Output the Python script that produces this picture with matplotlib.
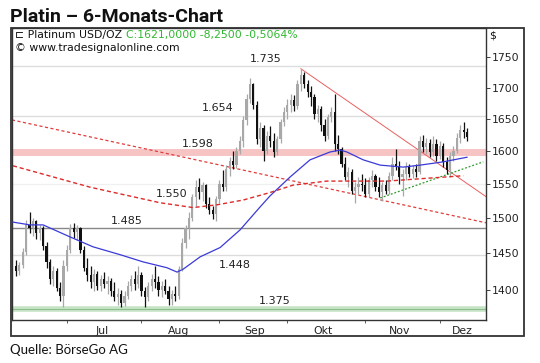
import numpy as np
import matplotlib
matplotlib.use("Agg")
import matplotlib.pyplot as plt
from matplotlib.patches import Rectangle
from matplotlib.ticker import FixedLocator, NullLocator

# daily OHLC, weekday index 0 = 11 Jun 2012
opens = [1432, 1425, 1434, 1452, 1490, 1485, 1495, 1478, 1486, 1460,
         1438, 1415, 1425, 1402, 1392, 1432, 1455, 1486, 1480, 1485,
         1455, 1430, 1420, 1410, 1422, 1405, 1415, 1408, 1412, 1398,
         1390, 1395, 1383, 1392, 1405, 1415, 1408, 1420, 1398, 1390,
         1405, 1415, 1410, 1400, 1405, 1398, 1388, 1395, 1392, 1428,
         1465, 1485, 1500, 1530, 1545, 1538, 1548, 1520, 1512, 1505,
         1528, 1550, 1545, 1572, 1585, 1578, 1600, 1615, 1648, 1682,
         1705, 1672, 1618, 1635, 1600, 1622, 1615, 1598, 1618, 1645,
         1660, 1672, 1680, 1670, 1705, 1720, 1705, 1692, 1685, 1658,
         1665, 1640, 1622, 1652, 1660, 1610, 1602, 1580, 1560, 1568,
         1540, 1545, 1550, 1548, 1535, 1555, 1562, 1545, 1538, 1548,
         1540, 1562, 1580, 1575, 1560, 1565, 1575, 1565, 1572, 1568,
         1615, 1605, 1612, 1598, 1610, 1592, 1608, 1582, 1570, 1592,
         1600, 1620, 1632, 1629]
highs = [1441, 1438, 1457, 1497, 1508, 1500, 1497, 1490, 1488, 1466,
         1442, 1432, 1430, 1410, 1440, 1462, 1492, 1493, 1490, 1487,
         1460, 1443, 1432, 1428, 1426, 1420, 1424, 1418, 1416, 1410,
         1402, 1400, 1398, 1412, 1420, 1425, 1432, 1424, 1404, 1410,
         1422, 1432, 1418, 1412, 1415, 1405, 1400, 1405, 1432, 1472,
         1490, 1508, 1535, 1555, 1558, 1552, 1550, 1530, 1518, 1532,
         1555, 1570, 1578, 1590, 1600, 1605, 1622, 1654, 1690, 1715,
         1708, 1678, 1645, 1640, 1630, 1638, 1628, 1622, 1650, 1668,
         1682, 1690, 1688, 1712, 1731, 1725, 1712, 1702, 1690, 1672,
         1670, 1650, 1658, 1668, 1690, 1625, 1605, 1590, 1575, 1572,
         1552, 1560, 1565, 1558, 1560, 1570, 1565, 1560, 1552, 1556,
         1568, 1590, 1602, 1585, 1572, 1582, 1580, 1578, 1580, 1622,
         1624, 1620, 1618, 1622, 1618, 1615, 1612, 1590, 1598, 1608,
         1628, 1640, 1645, 1635]
lows = [1418, 1420, 1430, 1448, 1478, 1474, 1470, 1468, 1455, 1430,
        1408, 1405, 1398, 1385, 1377, 1425, 1450, 1472, 1468, 1450,
        1425, 1412, 1402, 1398, 1400, 1398, 1403, 1395, 1392, 1385,
        1380, 1377, 1378, 1388, 1398, 1400, 1403, 1392, 1377, 1385,
        1398, 1402, 1392, 1390, 1395, 1380, 1380, 1385, 1388, 1425,
        1458, 1470, 1495, 1518, 1528, 1525, 1515, 1505, 1498, 1496,
        1522, 1540, 1540, 1562, 1572, 1574, 1595, 1605, 1640, 1675,
        1665, 1610, 1605, 1584, 1595, 1605, 1590, 1594, 1612, 1638,
        1650, 1660, 1662, 1665, 1695, 1700, 1685, 1670, 1650, 1645,
        1630, 1615, 1618, 1645, 1600, 1595, 1575, 1555, 1545, 1535,
        1522, 1535, 1540, 1530, 1530, 1545, 1540, 1530, 1525, 1535,
        1535, 1555, 1570, 1550, 1532, 1555, 1560, 1558, 1560, 1565,
        1598, 1595, 1590, 1592, 1585, 1588, 1575, 1565, 1560, 1585,
        1596, 1612, 1620, 1615]
closes = [1425, 1434, 1452, 1490, 1485, 1495, 1478, 1486, 1460, 1438,
          1415, 1425, 1402, 1392, 1432, 1455, 1486, 1480, 1485, 1455,
          1430, 1420, 1410, 1422, 1405, 1415, 1408, 1412, 1398, 1390,
          1395, 1383, 1392, 1405, 1415, 1408, 1420, 1398, 1390, 1405,
          1415, 1410, 1400, 1405, 1398, 1388, 1395, 1392, 1428, 1465,
          1485, 1500, 1530, 1545, 1538, 1548, 1520, 1512, 1505, 1528,
          1550, 1545, 1572, 1585, 1578, 1600, 1615, 1648, 1682, 1705,
          1672, 1618, 1635, 1600, 1622, 1615, 1598, 1618, 1645, 1660,
          1672, 1680, 1670, 1705, 1720, 1705, 1692, 1685, 1658, 1665,
          1640, 1622, 1652, 1660, 1610, 1602, 1580, 1560, 1568, 1540,
          1545, 1550, 1548, 1535, 1555, 1562, 1545, 1538, 1548, 1540,
          1562, 1580, 1575, 1560, 1565, 1575, 1565, 1572, 1568, 1615,
          1605, 1612, 1598, 1610, 1592, 1608, 1582, 1570, 1592, 1600,
          1620, 1632, 1629, 1621]

# moving averages (sampled)
ma_fast_x = [-0.9, 4.1, 8.0, 15.9, 22.7, 30.7, 37.5, 44.5, 47.5, 49.3, 54.3, 60.2, 66.1,
             72.0, 74.9, 80.8, 86.7, 92.6, 95.6, 97.6, 102.4, 107.4, 114.2, 119.2, 126.0, 133.0]
ma_fast_y = [1494, 1490, 1490, 1473, 1459, 1448, 1438, 1430, 1424, 1428, 1445, 1458, 1483,
             1516, 1532, 1560, 1586, 1598, 1601, 1598, 1586, 1578, 1575, 1578, 1583, 1590]
ma_slow_x = [-0.9, 21.8, 42.5, 52.2, 59.3, 67.0, 74.9, 81.7, 91.7, 109.4, 131.9]
ma_slow_y = [1577, 1545, 1522, 1515, 1519, 1526, 1537, 1548, 1554, 1554, 1562]

# trend lines (start, end)
trend_long_x, trend_long_y = [-1.2, 138.6], [1648, 1493]
trend_top_x, trend_top_y = [84, 138.6], [1731, 1531]
trend_up_x, trend_up_y = [107.4, 137.8], [1529, 1583]

# marked levels
level_values = [1735, 1654, 1598, 1550, 1485, 1448, 1375]
level_labels = ["1.735", "1.654", "1.598", "1.550", "1.485", "1.448", "1.375"]
level_label_x = [73.5, 59.6, 53.7, 45.8, 32.7, 64.6, 76.4]
level_label_above = [True, True, True, False, True, False, True]

yticks = [1400, 1450, 1500, 1550, 1600, 1650, 1700, 1750]
month_starts = [15, 37, 60, 80, 103, 125]
month_mid = [25.5, 48, 70.5, 90.5, 113, 131.5]
month_names = ["Jul", "Aug", "Sep", "Okt", "Nov", "Dez"]

W, H = 540, 363
fig = plt.figure(figsize=(W / 100, H / 100), dpi=100)
ax = fig.add_axes([12 / W, 1 - 320 / H, 474 / W, 292 / H])
ax.set_yscale("log")
ax.set_ylim(1360, 1800)
ax.set_xlim(-1.18, 138.6)

# levels
ax.axhline(1735, color="#dddddd", lw=1, zorder=1)
ax.axhline(1654, color="#dddddd", lw=1, zorder=1)
ax.axhline(1598, color="#f7c4c4", lw=5, zorder=1)
ax.axhline(1550, color="#f0f0f0", lw=1, zorder=1)
ax.axhline(1485, color="#888888", lw=1, zorder=1)
ax.axhline(1448, color="#dcdcdc", lw=1, zorder=1)
ax.axhline(1375, color="#c4e2c4", lw=4, zorder=1)
ax.axhline(1375, color="#8cbc8c", lw=0.7, zorder=1)

for v, s, lx, above in zip(level_values, level_labels, level_label_x, level_label_above):
    ax.annotate(s, xy=(lx, v), xytext=(0, 2 if above else -3.5), textcoords="offset points",
                ha="center", va="bottom" if above else "top", fontsize=8, color="#222222")

# candles
idx = np.arange(len(closes))
o = np.array(opens)
c = np.array(closes)
col = np.where(c >= o, "#a8a8a8", "#111111")
ax.vlines(idx, lows, highs, colors=col, lw=0.9, zorder=3)
body = np.where(np.abs(c - o) < 1, 1, c - o)
ax.bar(idx, body, bottom=o, width=0.65, color=col, lw=0, zorder=3)

# averages and trend lines
ax.plot(ma_fast_x, ma_fast_y, color="#3a3ad8", lw=0.9, zorder=4)
ax.plot(ma_slow_x, ma_slow_y, color="#dd2a2a", lw=1, ls=(0, (3, 2)), zorder=4)
ax.plot(trend_long_x, trend_long_y, color="#e03c3c", lw=0.9, ls=(0, (2.5, 2)), zorder=2)
ax.plot(trend_top_x, trend_top_y, color="#e86060", lw=0.7, zorder=2)
ax.plot(trend_up_x, trend_up_y, color="#2e9a2e", lw=0.9, ls=(0, (1.5, 1.5)), zorder=2)

# axes
ax.yaxis.tick_right()
ax.yaxis.set_major_locator(FixedLocator(yticks))
ax.yaxis.set_minor_locator(NullLocator())
ax.set_yticklabels([str(t) for t in yticks])
ax.tick_params(axis="y", length=3, width=0.6, pad=1.5, labelsize=7.8, colors="#222222")
ax.set_xticks(month_starts)
ax.set_xticklabels([])
ax.set_xticks(month_mid, minor=True)
ax.set_xticklabels(month_names, minor=True)
ax.tick_params(axis="x", which="major", length=2.5, width=0.6, color="#444444")
ax.tick_params(axis="x", which="minor", length=0, pad=4, labelsize=7.8, labelcolor="#222222")
for sp in ax.spines.values():
    sp.set_color("#333333")
    sp.set_linewidth(1)

# frame around chart
fig.patches.append(Rectangle((11 / W, 1 - 336 / H), 513 / W, 308 / H, transform=fig.transFigure,
                             fill=False, ec="#333333", lw=1.3))

# texts
fig.text(10 / W, 1 - 22.5 / H, "Platin – 6-Monats-Chart", fontsize=14, fontweight="bold",
         family="Roboto", va="baseline", color="#111111")
t1 = fig.text(15 / W, 1 - 35 / H, "⊏ Platinum USD/OZ ", fontsize=7.8, va="center", color="#111111")
ax.annotate("C:1621,0000 -8,2500 -0,5064%", xy=(1, 0.5), xycoords=t1, va="center", ha="left",
            fontsize=7.8, color="#2fb82f", annotation_clip=False)
fig.text(15 / W, 1 - 48 / H, "© www.tradesignalonline.com", fontsize=7.8, va="center", color="#111111")
fig.text(489 / W, 1 - 35 / H, "$", fontsize=7.8, va="center", color="#111111")
fig.text(10 / W, 1 - 350 / H, "Quelle: BörseGo AG", fontsize=9.5, family="Lato", va="center",
         color="#111111")

fig.savefig("out.png", dpi=100)
